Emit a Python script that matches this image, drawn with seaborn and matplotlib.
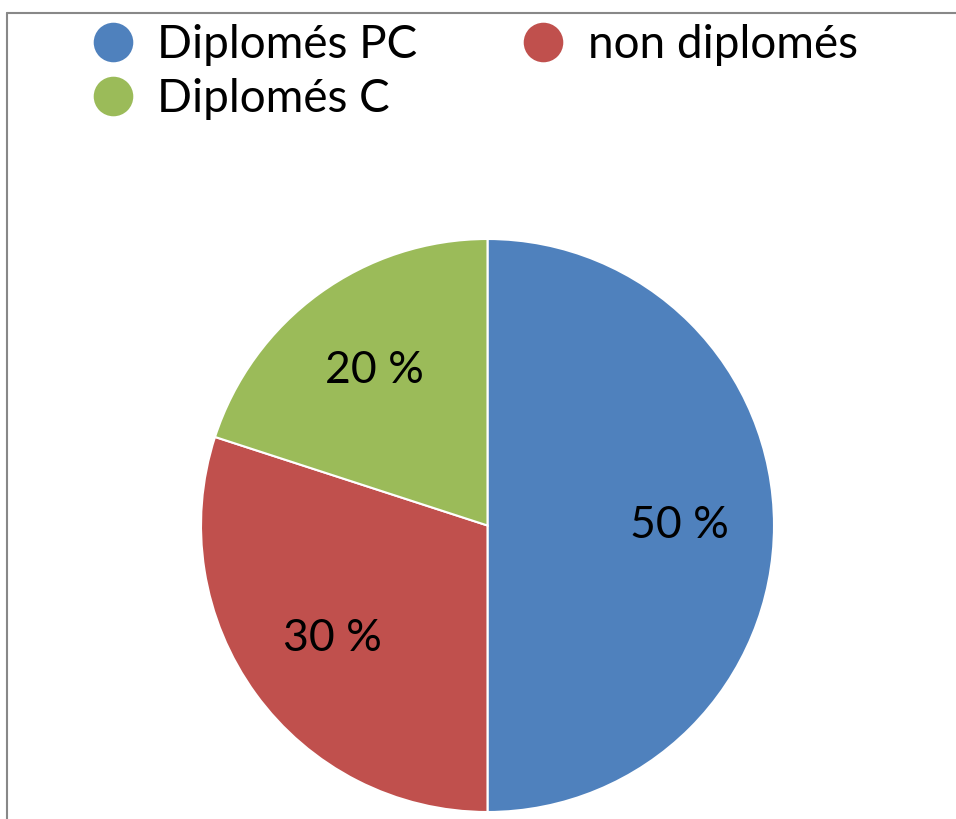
import matplotlib
matplotlib.use("Agg")
import matplotlib.pyplot as plt
from matplotlib.lines import Line2D
import seaborn as sns

# données
categories = ["Diplomés PC", "non diplomés", "Diplomés C"]
parts = [50, 30, 20]
couleurs = ["#4F81BD", "#C0504D", "#9BBB59"]

sns.set_theme(style="white")
plt.rcParams['font.family'] = ['Lato', 'DejaVu Sans']
plt.rcParams['text.color'] = 'black'

fig = plt.figure(figsize=(9.56, 8.19), dpi=100)
ax = fig.add_axes([200 / 956, 7 / 819, 575 / 956, 573 / 819])

wedges, texts, autotexts = ax.pie(
    parts, colors=couleurs, startangle=90, counterclock=False,
    autopct=lambda p: f"{p:.0f} %", pctdistance=0.67,
    wedgeprops=dict(edgecolor="white", linewidth=1.5),
    textprops=dict(fontsize=32, color="black"),
)
ax.set_xlim(-1.0, 1.0)
ax.set_ylim(-1.0, 1.0)
ax.set_aspect("equal")
ax.axis("off")

# légende : ordre colonne par colonne
ordre = [0, 2, 1]
handles = [Line2D([], [], marker="o", linestyle="", markersize=30,
                  markerfacecolor=couleurs[i], markeredgecolor="white",
                  markeredgewidth=1.5) for i in ordre]
labels = [categories[i] for i in ordre]
fig.legend(handles, labels, ncol=2, loc="upper left",
           bbox_to_anchor=(85 / 956, 1 - 24 / 819), frameon=False,
           fontsize=33, handletextpad=0.38, columnspacing=2.14,
           labelspacing=0.27, borderpad=0, borderaxespad=0, handlelength=1.2,
           labelcolor="black")

# cadre gris
fig.add_artist(Line2D([7 / 956, 7 / 956], [0, 1 - 13 / 819], color="#888888", lw=1.5))
fig.add_artist(Line2D([7 / 956, 1], [1 - 13 / 819, 1 - 13 / 819], color="#888888", lw=1.5))

fig.savefig("out.png", dpi=100)
